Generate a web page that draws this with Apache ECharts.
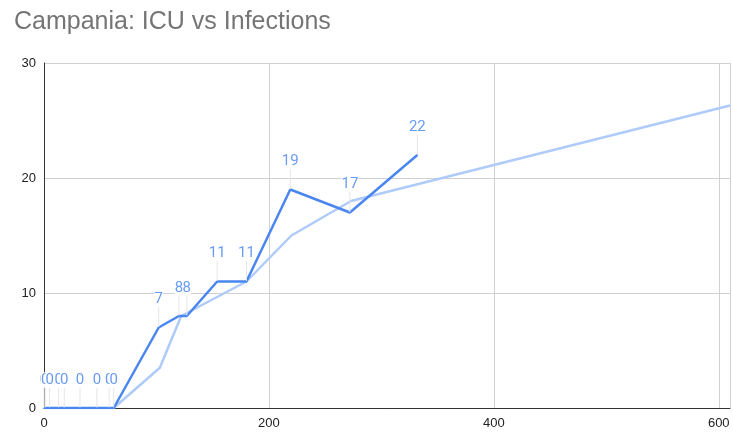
<!DOCTYPE html>
<html>
<head>
<meta charset="utf-8">
<script src="https://cdn.jsdelivr.net/npm/echarts@6/dist/echarts.min.js"></script>
<style>
  html, body { margin: 0; padding: 0; background: #fff; }
  #chart { width: 733px; height: 432px; }
</style>
</head>
<body>
<div id="chart"></div>
<script>
// infections (x) vs ICU patients (y)
const infections = [0, 1, 5, 13, 18, 32, 47, 58, 62, 102, 120, 127, 154, 180, 219, 272, 332];
const icu = [0, 0, 0, 0, 0, 0, 0, 0, 0, 7, 8, 8, 11, 11, 19, 17, 22];

// light trend line
const trendX = [62, 103, 122, 180, 220, 273, 610];
const trendY = [0, 3.5, 8, 11, 15, 18, 26.3];

const xTicks = [0, 200, 400, 600];

const chart = echarts.init(document.getElementById('chart'));

const options = {
  animation: false,
  title: {
    text: 'Campania: ICU vs Infections',
    left: 9,
    top: 5,
    textStyle: {
      fontFamily: 'Liberation Sans',
      fontSize: 25,
      fontWeight: 'normal',
      color: '#757575'
    }
  },
  grid: { left: 44, right: 0, top: 63, bottom: 24 },
  xAxis: {
    type: 'value',
    min: 0,
    max: 610,
    interval: 200,
    axisLine: { lineStyle: { color: '#333', width: 1 } },
    axisTick: { show: false },
    splitLine: { lineStyle: { color: '#d0d0d0' } },
    axisLabel: {
      color: '#222',
      fontFamily: 'Liberation Sans',
      fontSize: 13,
      margin: 9,
      formatter: v => (xTicks.includes(v) ? String(v) : '')
    }
  },
  yAxis: {
    type: 'value',
    min: 0,
    max: 30,
    interval: 10,
    axisLine: { show: true, lineStyle: { color: '#333', width: 1 } },
    axisTick: { show: false },
    splitLine: { lineStyle: { color: '#d0d0d0' } },
    axisLabel: {
      color: '#222',
      fontFamily: 'Liberation Sans',
      fontSize: 13,
      margin: 8
    }
  },
  series: [
    {
      name: 'Trend',
      type: 'line',
      data: trendX.map((x, i) => [x, trendY[i]]),
      showSymbol: false,
      silent: true,
      lineStyle: { color: '#aecbfa', width: 2.5 },
      z: 1
    },
    {
      name: 'ICU',
      type: 'line',
      data: infections.map((x, i) => [x, icu[i]]),
      showSymbol: true,
      symbol: 'circle',
      symbolSize: 1,
      itemStyle: { color: '#4a86f0' },
      lineStyle: { color: '#4a86f0', width: 2.5 },
      label: {
        show: true,
        position: 'top',
        distance: 0,
        color: '#6a9bf0',
        fontFamily: 'Roboto',
        fontSize: 15,
        backgroundColor: '#fff'
      },
      labelLayout: { dy: -20 },
      labelLine: {
        show: true,
        lineStyle: { color: '#e6e6e6', width: 1 }
      },
      z: 2
    }
  ]
};

chart.setOption(options);
</script>
</body>
</html>
